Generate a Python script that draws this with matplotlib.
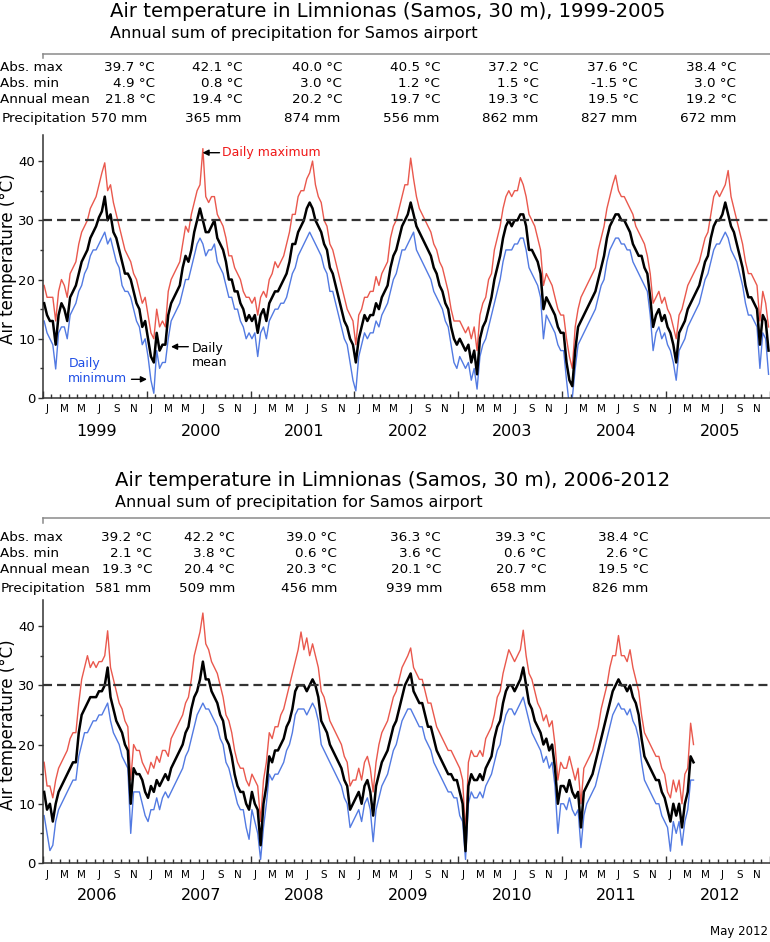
import numpy as np
import matplotlib
matplotlib.use("Agg")
import matplotlib.pyplot as plt
from matplotlib.lines import Line2D
from matplotlib.ticker import NullFormatter
import matplotlib.transforms as mtrans

plt.rcParams['font.family'] = ['DejaVu Sans']
plt.rcParams['lines.scale_dashes'] = False

# ---------------- data: summary tables ----------------
years_top = [1999, 2000, 2001, 2002, 2003, 2004, 2005]
absmax_top = [39.7, 42.1, 40.0, 40.5, 37.2, 37.6, 38.4]
absmin_top = [4.9, 0.8, 3.0, 1.2, 1.5, -1.5, 3.0]
annmean_top = [21.8, 19.4, 20.2, 19.7, 19.3, 19.5, 19.2]
precip_top = [570, 365, 874, 556, 862, 827, 672]

years_bot = [2006, 2007, 2008, 2009, 2010, 2011, 2012]
absmax_bot = [39.2, 42.2, 39.0, 36.3, 39.3, 38.4]
absmin_bot = [2.1, 3.8, 0.6, 3.6, 0.6, 2.6]
annmean_bot = [19.3, 20.4, 20.3, 20.1, 20.7, 19.5]
precip_bot = [581, 509, 456, 939, 658, 826]

month_letters = ['J', 'M', 'M', 'J', 'S', 'N']

# ---------------- data: temperatures, 3 values per month (dekads) ----------------
tmean_top = [
    16, 14, 13,  13, 9, 14,  16, 15, 13,  17, 18, 19,  21, 23, 24,  25, 27, 28,  29, 30.5, 31.5,  34, 30, 31,  28, 27, 25,  23, 21, 21,  20, 18, 16,  15, 12, 13,   # 1999
    10, 7, 6,  11, 8, 9,  9, 14, 16,  17, 18, 19,  22, 24, 23,  25, 28, 30,  32, 30, 28,  28, 29, 30,  27, 26, 25,  23, 20, 20,  18, 18, 16,  15, 13, 14,   # 2000
    13, 14, 11,  14, 15, 13,  16, 17, 18,  18, 19, 20,  21, 23, 26,  26, 28, 29,  30, 32, 33,  32, 30, 29,  28, 26, 25,  22, 21, 19,  17, 15, 13,  12, 10, 9,   # 2001
    6, 10, 12,  14, 13, 14,  14, 16, 15,  17, 18, 19,  22, 24, 25,  27, 29, 30,  31, 33, 31,  29, 28, 27,  26, 25, 24,  22, 21, 19,  18, 16, 15,  12, 10, 9,   # 2002
    10, 9, 8,  9, 6, 8,  4, 10, 12,  13, 15, 17,  20, 22, 24,  27, 29, 30,  29, 30, 30,  31, 31, 29,  25, 25, 24,  23, 21, 15,  17, 16, 15,  14, 12, 11,   # 2003
    11, 6, 3,  2, 8, 12,  13, 14, 15,  16, 17, 18,  20, 22, 24,  27, 29, 30,  31, 31, 30,  30, 29, 28,  26, 25, 24,  24, 22, 21,  17, 12, 14,  15, 13, 14,   # 2004
    12, 11, 9,  6, 11, 12,  13, 15, 16,  17, 18, 19,  21, 23, 24,  27, 29, 30,  30, 31, 33,  31, 29, 28,  26, 24, 22,  19, 17, 17,  16, 15, 9,  14, 13, 8,   # 2005
]
tmax_top = [
    19, 17, 17,  17, 13, 18,  20, 19, 17,  21, 22, 23,  26, 28, 29,  30, 32, 33,  34, 36, 38,  39.7, 35, 36,  33, 31, 29,  27, 25, 24,  23, 21, 20,  18, 16, 17,   # 1999
    14, 11, 10,  15, 12, 13,  12, 18, 20,  21, 22, 23,  26, 29, 28,  31, 33, 35,  36, 42.1, 34,  33, 34, 34,  31, 30, 29,  27, 24, 24,  22, 21, 20,  18, 17, 17,   # 2000
    16, 17, 14,  17, 18, 17,  20, 21, 23,  22, 23, 24,  26, 28, 31,  31, 34, 35,  35, 37, 38,  40, 36, 34,  33, 30, 29,  26, 25, 23,  21, 19, 17,  15, 14, 13,   # 2001
    9, 14, 15,  17, 17, 18,  18, 20.5, 19,  21, 22, 23,  27, 29, 30,  32, 34, 36,  36, 40.5, 37,  34, 32, 31,  30, 29, 28,  26, 25, 23,  22, 20, 18,  15, 13, 13,   # 2002
    13, 12, 11,  12, 10, 12,  8, 14, 16,  17, 20, 21,  25, 27, 29,  32, 34, 35,  34, 35, 35,  37.2, 36, 34,  31, 30, 29,  27, 25, 19,  21, 20, 19,  17, 15, 14,   # 2003
    14, 10, 7,  5, 12, 15,  17, 18, 19,  20, 21, 22,  25, 27, 29,  32, 34, 36,  37.6, 35, 34,  34, 33, 32,  31, 29, 28,  27, 26, 24,  21, 16, 17,  18, 16, 17,   # 2004
    15, 14, 12,  10, 14, 15,  17, 19, 20,  21, 22, 23,  25, 27, 28,  31, 34, 35,  34, 35, 36,  38.4, 34, 32,  30, 28, 26,  23, 21, 21,  20, 19, 13,  18, 16, 12,   # 2005
]
tmin_top = [
    13, 11, 10,  9, 4.9, 11,  12, 12, 10,  14, 15, 16,  18, 19, 21,  22, 24, 25,  25, 26, 27,  28, 26, 27,  25, 23, 22,  19, 18, 18,  17, 15, 13,  12, 9, 10,   # 1999
    7, 3, 0.8,  8, 5, 6,  6, 10, 13,  14, 15, 16,  18, 20, 20,  22, 24, 26,  27, 26, 24,  25, 25, 26,  23, 22, 21,  19, 17, 17,  15, 15, 13,  12, 10, 11,   # 2000
    10, 11, 7,  11, 12, 10,  13, 14, 15,  15, 16, 16,  17, 19, 21,  22, 24, 25,  26, 27, 28,  27, 26, 25,  24, 22, 21,  18, 18, 16,  14, 12, 10,  9, 6, 3,   # 2001
    1.2, 7, 9,  11, 10, 11,  11, 13, 12,  14, 15, 16,  18, 20, 21,  23, 25, 25,  26, 27, 28,  25, 24, 23,  22, 21, 20,  18, 17, 16,  15, 13, 12,  9, 6, 5,   # 2002
    7, 6, 5,  6, 3, 5,  1.5, 7, 9,  10, 12, 14,  16, 18, 20,  23, 25, 25,  25, 26, 26,  27, 27, 25,  22, 21, 20,  19, 17, 10,  14, 13, 12,  11, 9, 8,   # 2003
    8, 3, -1.5,  0, 5, 9,  10, 11, 12,  13, 14, 15,  17, 19, 20,  23, 25, 26,  27, 27, 26,  26, 25, 25,  23, 22, 21,  20, 19, 18,  14, 8, 11,  12, 10, 11,   # 2004
    9, 8, 6,  3, 8, 9,  10, 12, 13,  14, 15, 16,  18, 20, 21,  23, 25, 26,  26, 27, 28,  27, 25, 24,  23, 21, 19,  16, 14, 14,  13, 12, 5,  11, 10, 4,   # 2005
]

tmean_bot = [
    12, 9, 10,  7, 10, 12,  13, 14, 15,  16, 17, 17,  22, 25, 26,  27, 28, 28,  28, 29, 29,  30, 33, 28,  26, 24, 23,  22, 20, 19,  10, 16, 15,  15, 14, 12,   # 2006
    11, 13, 12,  14, 13, 14,  15, 14, 16,  17, 18, 19,  20, 22, 23,  26, 28, 29,  31, 34, 31,  31, 29, 28,  27, 25, 24,  21, 20, 18,  15, 13, 12,  12, 10, 9,   # 2007
    12, 10, 9,  3, 10, 13,  18, 17, 19,  19, 20, 21,  23, 24, 26,  29, 30, 30,  30, 29, 30,  31, 30, 28,  24, 23, 22,  20, 19, 18,  17, 16, 14,  13, 9, 10,   # 2008
    11, 12, 10,  13, 14, 12,  8, 13, 15,  17, 18, 19,  21, 23, 24,  26, 28, 30,  31, 32, 29,  28, 27, 27,  25, 23, 23,  21, 19, 18,  17, 16, 15,  15, 14, 14,   # 2009
    12, 10, 2,  13, 15, 14,  14, 15, 14,  16, 17, 18,  21, 23, 24,  27, 29, 30,  30, 29, 30,  31, 33, 30,  27, 26, 24,  23, 22, 20,  21, 19, 20,  16, 10, 13,   # 2010
    13, 12, 14,  12, 11, 12,  6, 12, 13,  14, 15, 17,  19, 21, 23,  25, 27, 29,  30, 31, 30,  30, 29, 30,  28, 27, 25,  21, 18, 17,  16, 15, 14,  14, 12, 11,   # 2011
    9, 7, 10,  8, 10, 6,  10, 12, 18,  17,   # 2012 (to early April)
]
tmax_bot = [
    17, 13, 13,  11, 14, 16,  17, 18, 19,  21, 22, 22,  27, 31, 33,  35, 33, 34,  33, 34, 34,  35, 39.2, 33,  31, 29, 27,  26, 24, 23,  14, 20, 19,  19, 17, 16,   # 2006
    15, 17, 16,  18, 17, 19,  19, 18, 21,  22, 23, 24,  25, 27, 28,  31, 35, 37,  39, 42.2, 37,  36, 34, 33,  32, 30, 28,  25, 24, 22,  19, 17, 16,  16, 14, 13,   # 2007
    15, 14, 13,  7, 14, 17,  22, 21, 23,  23, 25, 26,  28, 30, 32,  34, 36, 39,  36, 38, 35,  37, 35, 33,  29, 28, 26,  24, 23, 22,  21, 20, 18,  17, 13, 14,   # 2008
    14, 16, 14,  17, 18, 16,  12, 17, 20,  22, 23, 24,  26, 28, 29,  31, 33, 34,  35, 36.3, 33,  32, 31, 31,  29, 27, 27,  25, 23, 22,  21, 20, 19,  19, 18, 17,   # 2009
    16, 14, 5,  17, 19, 18,  18, 19, 18,  21, 22, 23,  25, 28, 29,  32, 34, 36,  35, 34, 35,  36, 39.3, 35,  32, 31, 29,  27, 26, 24,  25, 23, 24,  20, 14, 17,   # 2010
    16, 16, 18,  16, 14, 16,  10, 16, 17,  18, 19, 21,  23, 26, 28,  30, 33, 35,  35, 38.4, 35,  35, 34, 36,  33, 31, 29,  25, 22, 21,  20, 19, 18,  18, 16, 15,   # 2011
    12, 11, 14,  12, 14, 10,  15, 16, 23.6,  20,   # 2012
]
tmin_bot = [
    8, 5, 2.1,  3, 7, 9,  10, 11, 12,  13, 14, 14,  18, 20, 22,  22, 23, 24,  24, 25, 25,  26, 27, 24,  22, 21, 20,  18, 17, 16,  5, 12, 12,  12, 10, 8,   # 2006
    7, 9, 9,  11, 9, 11,  12, 11, 12,  13, 14, 15,  16, 18, 19,  21, 23, 25,  26, 27, 26,  26, 25, 24,  23, 21, 20,  17, 16, 14,  12, 10, 9,  9, 6, 4,   # 2007
    9, 7, 5,  0.6, 6, 10,  15, 14, 15,  15, 16, 17,  19, 20, 22,  25, 26, 26,  26, 25, 26,  27, 26, 24,  20, 19, 18,  17, 16, 15,  14, 13, 11,  10, 6, 7,   # 2008
    8, 9, 7,  10, 11, 9,  3.6, 9, 11,  13, 14, 15,  17, 19, 20,  22, 24, 25,  26, 26, 25,  24, 23, 23,  21, 20, 19,  17, 16, 15,  14, 13, 12,  12, 11, 11,   # 2009
    8, 7, 0.6,  10, 12, 11,  11, 12, 11,  13, 14, 15,  17, 19, 20,  23, 25, 26,  26, 25, 26,  27, 28, 26,  24, 22, 21,  20, 19, 17,  18, 16, 17,  13, 5, 10,   # 2010
    10, 9, 11,  9, 8, 9,  2.6, 8, 10,  11, 12, 13,  15, 17, 19,  21, 23, 25,  26, 27, 26,  26, 25, 26,  24, 23, 21,  17, 14, 13,  12, 11, 10,  10, 8, 7,   # 2011
    6, 2, 7,  5, 7, 3,  7, 9, 14,  14,   # 2012
]

# ---------------- layout helpers (pixels -> figure fraction) ----------------
W, H = 770, 942
fig = plt.figure(figsize=(W / 100, H / 100), dpi=100)


def fx(x):
    return x / W


def fy(y):
    return 1 - y / H


RED = '#e63b2e'
BLUE = '#3463dd'
TXT_RED = '#f01818'
TXT_BLUE = '#1f4fe6'
AX_COL = '#333333'
TABLE_FS = 9.7


def header(title, y_title, x_title, y_rule, rows_y, label_x, cols_temp, cols_prec,
           absmax, absmin, annmean, precip):
    fig.text(fx(x_title), fy(y_title), title[0], fontsize=14.1, va='baseline', ha='left')
    fig.text(fx(x_title), fy(y_title + 20.5), title[1], fontsize=11.5, va='baseline', ha='left')
    fig.add_artist(Line2D([fx(42.7), fx(770)], [fy(y_rule), fy(y_rule)], color='#8a8a8a', lw=1.1))
    fig.add_artist(Line2D([fx(42.7), fx(42.7)], [fy(y_rule), fy(y_rule + 4.5)], color='#8a8a8a', lw=1.1))
    labels = ['Abs. max', 'Abs. min', 'Annual mean', 'Precipitation']
    for lab, yy, lx in zip(labels, rows_y, label_x):
        fig.text(fx(lx), fy(yy), lab, fontsize=TABLE_FS, va='baseline', ha='left')
    for i, v in enumerate(absmax):
        fig.text(fx(cols_temp[i]), fy(rows_y[0]), f"{v:.1f} °C", fontsize=TABLE_FS, va='baseline', ha='right')
    for i, v in enumerate(absmin):
        fig.text(fx(cols_temp[i]), fy(rows_y[1]), f"{v:.1f} °C", fontsize=TABLE_FS, va='baseline', ha='right')
    for i, v in enumerate(annmean):
        fig.text(fx(cols_temp[i]), fy(rows_y[2]), f"{v:.1f} °C", fontsize=TABLE_FS, va='baseline', ha='right')
    for i, v in enumerate(precip):
        fig.text(fx(cols_prec[i]), fy(rows_y[3]), f"{v} mm", fontsize=TABLE_FS, va='baseline', ha='right')


def panel(y_top, y_axis, start, tmax, tmin, tmean, ylab_y):
    ax = fig.add_axes([fx(42.7), fy(y_axis), fx(770) - fx(42.7), (y_axis - y_top) / H])
    n = min(len(tmax), len(tmin), len(tmean))
    t = start + (np.arange(n) + 0.5) / 36.0
    ax.plot(t, tmax[:n], color=RED, lw=1.0, alpha=0.85, zorder=2)
    ax.plot(t, tmin[:n], color=BLUE, lw=1.0, alpha=0.85, zorder=2)
    ax.plot(t, tmean[:n], color='black', lw=1.8, zorder=3)
    ax.axhline(30, color=AX_COL, lw=1.6, dashes=(6.5, 3.6), zorder=4)
    ax.set_xlim(start, start + 7)
    ax.set_ylim(0, 44.4)
    for s in ['top', 'right']:
        ax.spines[s].set_visible(False)
    for s in ['left', 'bottom']:
        ax.spines[s].set_color(AX_COL)
        ax.spines[s].set_linewidth(1.1)
    ax.set_yticks([0, 10, 20, 30, 40])
    ax.set_yticks([5, 15, 25, 35], minor=True)
    ax.set_xticks(np.arange(start, start + 8))
    ax.set_xticks([start + m / 12 for m in range(84)], minor=True)
    ax.xaxis.set_major_formatter(NullFormatter())
    ax.tick_params(axis='y', which='major', direction='out', length=3.3, width=1,
                   labelsize=9.5, pad=2, color=AX_COL)
    ax.tick_params(axis='y', which='minor', direction='out', length=2, width=1, color=AX_COL)
    ax.tick_params(axis='x', which='major', direction='in', length=4.8, width=1, color=AX_COL)
    ax.tick_params(axis='x', which='minor', direction='in', length=2.9, width=1, color=AX_COL)
    tr = mtrans.blended_transform_factory(ax.transData, ax.transAxes)
    h = y_axis - y_top
    for yr in range(start, start + 7):
        for k, m in enumerate([0, 2, 4, 6, 8, 10]):
            ax.text(yr + (m + 0.5) / 12, -11.5 / h, month_letters[k], transform=tr,
                    ha='center', va='center', fontsize=7.5)
        ax.text(yr + 0.52, -33 / h, str(yr), transform=tr, ha='center', va='center', fontsize=11.5)
    fig.text(fx(8), fy(ylab_y), 'Air temperature (°C)', rotation=90, ha='center', va='center', fontsize=12)
    return ax


# ---------------- top block ----------------
header(("Air temperature in Limnionas (Samos, 30 m), 1999-2005",
        "Annual sum of precipitation for Samos airport"),
       17.3, 110, 53.5, [70.7, 87.3, 103.3, 121.7], [0.5, 0.5, 0.5, 1.5],
       [155, 243, 342, 440, 539, 638, 736], [147, 241, 340, 439, 538, 637, 736],
       absmax_top, absmin_top, annmean_top, precip_top)
ax1 = panel(135, 398, years_top[0], tmax_top, tmin_top, tmean_top, 259)

# annotations (top panel)
arrow_kw = dict(arrowstyle='-|>', color='black', lw=1.0, mutation_scale=9, shrinkA=0, shrinkB=0)
fig.text(fx(222), fy(152.7), 'Daily maximum', color=TXT_RED, fontsize=9, ha='left', va='center')
ax1.annotate('', xy=(fx(202.5), fy(152.7)), xytext=(fx(219.5), fy(152.7)),
             xycoords='figure fraction', textcoords='figure fraction', arrowprops=arrow_kw)
fig.text(fx(191.7), fy(348.3), 'Daily', color='black', fontsize=9, ha='left', va='center')
fig.text(fx(191.7), fy(362.7), 'mean', color='black', fontsize=9, ha='left', va='center')
ax1.annotate('', xy=(fx(171), fy(346.7)), xytext=(fx(188.3), fy(346.7)),
             xycoords='figure fraction', textcoords='figure fraction', arrowprops=arrow_kw)
fig.text(fx(68.3), fy(363.3), 'Daily', color=TXT_BLUE, fontsize=9, ha='left', va='center')
fig.text(fx(68.3), fy(378.6), 'minimum', color=TXT_BLUE, fontsize=9, ha='left', va='center')
ax1.annotate('', xy=(fx(147), fy(379.3)), xytext=(fx(131.5), fy(379.3)),
             xycoords='figure fraction', textcoords='figure fraction', arrowprops=arrow_kw)

# ---------------- bottom block ----------------
header(("Air temperature in Limnionas (Samos, 30 m), 2006-2012",
        "Annual sum of precipitation for Samos airport"),
       486, 115, 518, [540.7, 557.3, 572.7, 592.3], [0.5, 0.5, 0.5, 0.5],
       [152, 235, 337, 441, 546, 648], [151, 235, 337, 442, 546, 648],
       absmax_bot, absmin_bot, annmean_bot, precip_bot)
ax2 = panel(600, 863, years_bot[0], tmax_bot, tmin_bot, tmean_bot, 725)

fig.text(fx(768), fy(935), 'May 2012', fontsize=8.5, ha='right', va='baseline')

fig.savefig('out.png', dpi=100)
